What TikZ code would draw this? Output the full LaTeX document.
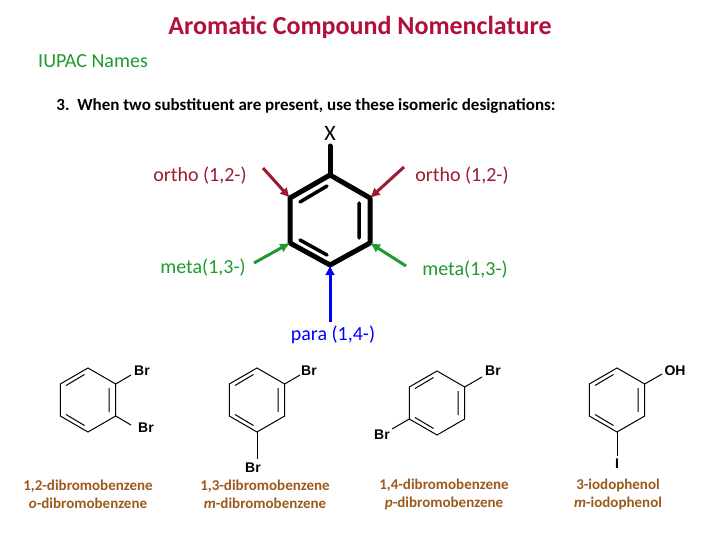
\documentclass[tikz,border=0pt]{standalone}
\usepackage{fontspec}
\setmainfont{Carlito}
\newfontfamily\hv{Liberation Sans}
\usetikzlibrary{arrows.meta}
\definecolor{crim}{HTML}{B0103A}
\definecolor{dred}{HTML}{9B1B30}
\definecolor{grn}{HTML}{1E9A2E}
\definecolor{brn}{HTML}{9A5A1C}
\begin{document}
\begin{tikzpicture}[x=1pt,y=-1pt,
  ttl/.style={font=\bfseries\fontsize{26}{30}\selectfont,text=crim},
  captxt/.style={font=\bfseries\fontsize{15}{18}\selectfont,text=brn,align=center},
  lbl/.style={font=\fontsize{20}{24}\selectfont},
  atm/.style={font=\hv\bfseries\fontsize{14}{16}\selectfont,inner sep=1pt},
  bond/.style={line width=1pt},
  big/.style={line width=5pt,line cap=round,line join=round},
  arr/.style={line width=3pt,-{Latex[length=10pt,width=10pt]}}]
\useasboundingbox (0,0) rectangle (720,540);
\node[ttl] (t) at (360,27) {Aromatic Compound Nomenclature};
\node[font=\fontsize{20}{24}\selectfont,text=grn] (iu) at (93,61) {IUPAC Names};
\node[font=\bfseries\fontsize{17}{20}\selectfont] (l3) at (306,106) {3.\ \ When two substituent are present, use these isomeric designations:};
% central benzene
\coordinate (A) at (330,175); \coordinate (B) at (290,198); \coordinate (C) at (290,243);
\coordinate (D) at (330,265); \coordinate (E) at (370,243); \coordinate (F) at (370,198);
\draw[big] (A)--(B)--(C)--(D)--(E)--(F)--cycle;
\draw[big] (A)--(330,146);
\node[font=\fontsize{22}{24}\selectfont,inner sep=0pt] (X) at (330,133) {X};
\draw[line width=3.5pt,line cap=round] (327,186)--(300,202) (359,203)--(359,238) (300,240)--(327,255);
\node[lbl,text=dred] (o1) at (200,176) {ortho (1,2-)};
\node[lbl,text=dred] (o2) at (462,176) {ortho (1,2-)};
\node[lbl,text=grn] (m1) at (203,268) {meta(1,3-)};
\node[lbl,text=grn] (m2) at (465,270) {meta(1,3-)};
\node[lbl,text=blue] (p) at (333,335) {para (1,4-)};
\coordinate (o1s) at (263,168); \coordinate (o2s) at (404,167);
\coordinate (m1s) at (254,263); \coordinate (m2s) at (406,266); \coordinate (ps) at (330,322);
\draw[arr,dred] (o1s)--(B);
\draw[arr,dred] (o2s)--(F);
\draw[arr,grn] (m1s)--(C);
\draw[arr,grn] (m2s)--(E);
\draw[arr,blue] (ps)--(D);
% small rings
\foreach \cx/\cy in {88/400,257/400,437/403,617/400}{
  \draw[bond] (\cx,\cy-32)--++(-27.7,16)--++(0,32)--++(27.7,16)--++(27.7,-16)--++(0,-32)--cycle;
  \draw[bond] (\cx-3.5,\cy-25.5)--(\cx-22,\cy-14.5) (\cx+21,\cy-12)--(\cx+21,\cy+12) (\cx-22,\cy+14.5)--(\cx-3.5,\cy+25.5);
}
% substituents
\draw[bond] (115.7,384)--(131,375); \node[atm] (b1) at (142,371) {Br};
\draw[bond] (115.7,416)--(131,425); \node[atm] (b2) at (146,428) {Br};
\draw[bond] (284.7,384)--(300,375); \node[atm] (b3) at (309,371) {Br};
\draw[bond] (257,432)--(257,459); \node[atm] (b4) at (253,468) {Br};
\draw[bond] (464.7,387)--(482,377); \node[atm] (b5) at (493,371) {Br};
\draw[bond] (409.3,419)--(392,429); \node[atm] (b6) at (382,435) {Br};
\draw[bond] (644.7,384)--(662,374); \node[atm] (oh) at (675,371) {OH};
\draw[bond] (617,432)--(617,456); \node[atm] (io) at (617,464) {I};
\node[captxt] (c1) at (88,494) {1,2-dibromobenzene\\\textit{o}-dibromobenzene};
\node[captxt] (c2) at (265,494) {1,3-dibromobenzene\\\textit{m}-dibromobenzene};
\node[captxt] (c3) at (444,494) {1,4-dibromobenzene\\\textit{p}-dibromobenzene};
\node[captxt] (c4) at (618,494) {3-iodophenol\\\textit{m}-iodophenol};
\end{tikzpicture}
\end{document}
